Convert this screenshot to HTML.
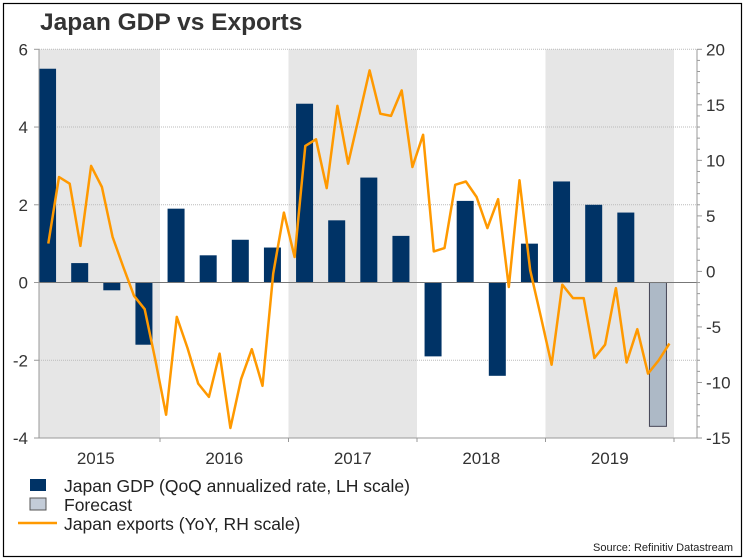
<!DOCTYPE html>
<html><head><meta charset="utf-8"><style>
body{margin:0;background:#fff;}
svg{display:block;font-family:"Liberation Sans",Arial,sans-serif;}
</style></head><body>
<svg id="chart" width="744" height="558" xmlns="http://www.w3.org/2000/svg">
<rect x="3.5" y="3.5" width="738" height="553" fill="#fff" stroke="#000" stroke-width="1.2"/>
<text x="40" y="30" font-size="24.5" font-weight="bold" fill="#333">Japan GDP vs Exports</text>
<g id="plot"></g>
<g>
<rect x="30" y="479" width="16" height="12" fill="#003366"/>
<text x="64" y="492" font-size="17.5" fill="#222">Japan GDP (QoQ annualized rate, LH scale)</text>
<rect x="30" y="498" width="16" height="12" fill="#c3ccd8" stroke="#555" stroke-width="1"/>
<text x="64" y="511" font-size="17.5" fill="#222">Forecast</text>
<line x1="18" y1="523" x2="57" y2="523" stroke="#ff9900" stroke-width="2.5"/>
<text x="64" y="530" font-size="17.5" fill="#222">Japan exports (YoY, RH scale)</text>
</g>
<text x="733" y="551" font-size="11" fill="#222" text-anchor="end">Source: Refinitiv Datastream</text>
</svg>
<script>
const years = [2015, 2016, 2017, 2018, 2019];
const gdpValues = [5.5, 0.5, -0.2, -1.6, 1.9, 0.7, 1.1, 0.9, 4.6, 1.6, 2.7, 1.2, -1.9, 2.1, -2.4, 1.0, 2.6, 2.0, 1.8];
const forecastValues = [-3.7];
const exportValues = [2.5, 8.5, 7.9, 2.3, 9.5, 7.6, 3.1, 0.4, -2.2, -3.4, -8.0, -12.9, -4.1, -6.9, -10.1, -11.3, -7.4, -14.1, -9.7, -7.0, -10.3, -0.2, 5.3, 1.3, 11.3, 11.9, 7.5, 14.9, 9.7, 13.9, 18.1, 14.2, 14.0, 16.3, 9.4, 12.3, 1.8, 2.1, 7.8, 8.1, 6.7, 3.9, 6.5, -1.4, 8.2, 0.1, -4.1, -8.4, -1.2, -2.4, -2.4, -7.8, -6.6, -1.5, -8.2, -5.2, -9.2, -8.0, -6.5];
const leftTicks = [6, 4, 2, 0, -2, -4];
const rightTicks = [20, 15, 10, 5, 0, -5, -10, -15];

const NS = "http://www.w3.org/2000/svg";
const plot = document.getElementById("plot");
const PL = 39, PR = 697, PT = 49.3, PB = 438;
const X0 = 31.5, YW = 128.5;
const xT = t => X0 + (t - 2015) * YW;
const yL = v => PT + (6 - v) / 10 * (PB - PT);
const yR = v => PT + (20 - v) / 35 * (PB - PT);
function mk(tag, attrs) { const e = document.createElementNS(NS, tag); for (const k in attrs) e.setAttribute(k, attrs[k]); plot.appendChild(e); return e; }

years.forEach((y, i) => {
  if (i % 2 === 0) {
    const x1 = Math.max(PL, xT(y)), x2 = Math.min(PR, xT(y + 1));
    const r = mk("rect", {x: x1, y: PT, width: x2 - x1, height: PB - PT, fill: "#e6e6e6"});
    
    
  }
});
leftTicks.forEach(v => {
  if (v === 0) return;
  const l = mk("line", {x1: PL, x2: PR, y1: yL(v), y2: yL(v), stroke: "#bbb", "stroke-width": 1, "stroke-dasharray": "1,1"});
  
  
});
gdpValues.forEach((v, i) => {
  const cx = xT(2015 + (i + 0.5) / 4);
  const y0 = yL(0), y1 = yL(v);
  const b = mk("rect", {x: cx - 8.5, y: Math.min(y0, y1), width: 17, height: Math.abs(y1 - y0), fill: "#003366"});
  
  
});
forecastValues.forEach((v, j) => {
  const i = gdpValues.length + j;
  const cx = xT(2015 + (i + 0.5) / 4);
  const y0 = yL(0), y1 = yL(v);
  const b = mk("rect", {x: cx - 8.5, y: Math.min(y0, y1), width: 17, height: Math.abs(y1 - y0), fill: "#adb9c6", stroke: "#445", "stroke-width": 1});
  
  
});
const zl = mk("line", {x1: PL, x2: PR, y1: yL(0), y2: yL(0), stroke: "#777", "stroke-width": 1});


const pts = exportValues.map((v, i) => xT(2015 + (i + 1.57) / 12).toFixed(1) + "," + yR(v).toFixed(1)).join(" ");
const pl = mk("polyline", {points: pts, fill: "none", stroke: "#ff9900", "stroke-width": 2.5, "stroke-linejoin": "round"});


const la = mk("line", {x1: PL, x2: PL, y1: PT, y2: PB, stroke: "#999"});


const ra = mk("line", {x1: PR, x2: PR, y1: PT, y2: PB, stroke: "#999"});


const ba = mk("line", {x1: 34, x2: PR, y1: PB, y2: PB, stroke: "#999"});


leftTicks.forEach(v => {
  const t = mk("line", {x1: 34, x2: PL, y1: yL(v), y2: yL(v), stroke: "#999"});
  
  
  const tx = mk("text", {x: 28, y: yL(v) + 6, "font-size": 17, fill: "#333", "text-anchor": "end"});
  tx.textContent = v;
  
  
});
rightTicks.forEach(v => {
  const t = mk("line", {x1: PR, x2: PR + 5, y1: yR(v), y2: yR(v), stroke: "#999"});
  
  
  const tx = mk("text", {x: PR + 9, y: yR(v) + 6, "font-size": 17, fill: "#333"});
  tx.textContent = v;
  
  
});
for (let v = 20; v >= -15; v--) {
  if (v % 5 === 0) continue;
  const t = mk("line", {x1: PR, x2: PR + 3, y1: yR(v), y2: yR(v), stroke: "#999"});
  
  
}
years.forEach(y => {
  const t = mk("line", {x1: xT(y + 1), x2: xT(y + 1), y1: PB, y2: PB + 4, stroke: "#999"});
  
  
  const tx = mk("text", {x: xT(y + 0.5), y: PB + 26, "font-size": 17, fill: "#333", "text-anchor": "middle"});
  tx.textContent = y;
  
  
});
</script>
</body></html>
